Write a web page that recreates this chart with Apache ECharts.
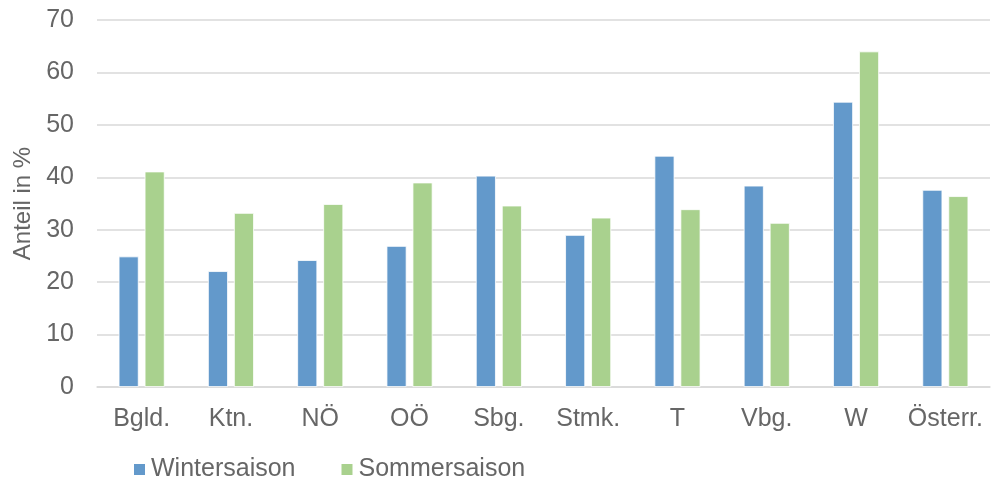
<!DOCTYPE html>
<html>
<head>
<meta charset="utf-8">
<script src="https://cdn.jsdelivr.net/npm/echarts@6/dist/echarts.min.js"></script>
<style>html,body{margin:0;padding:0;background:#fff;}#c{width:997px;height:482px;}</style>
</head>
<body>
<div id="c"></div>
<script>
const categories = ['Bgld.', 'Ktn.', 'NÖ', 'OÖ', 'Sbg.', 'Stmk.', 'T', 'Vbg.', 'W', 'Österr.'];
const winter = [24.9, 22.1, 24.2, 26.9, 40.3, 29.0, 44.1, 38.4, 54.4, 37.6];
const summer = [41.1, 33.2, 34.9, 39.0, 34.6, 32.3, 33.9, 31.3, 64.0, 36.4];
const yTicks = [0, 10, 20, 30, 40, 50, 60, 70];

const chart = echarts.init(document.getElementById('c'));
const font = 'Liberation Sans, Arial, sans-serif';
const txt = '#666666';
chart.setOption({
  animation: false,
  textStyle: { fontFamily: font },
  grid: { left: 97, right: 7, top: 20, bottom: 95, containLabel: false },
  legend: {
    left: 132, top: 457, padding: 0, itemWidth: 13, itemHeight: 13, itemGap: 44,
    icon: 'rect',
    textStyle: { fontSize: 25, color: txt, fontFamily: font },
    data: ['Wintersaison', 'Sommersaison']
  },
  xAxis: {
    type: 'category', data: categories,
    axisLine: { lineStyle: { color: '#d9d9d9', width: 1.5 } },
    axisTick: { show: false },
    axisLabel: { fontSize: 25, color: txt, margin: 20, fontFamily: font, interval: 0, hideOverlap: false }
  },
  yAxis: {
    type: 'value', min: 0, max: 70, interval: 10,
    name: 'Anteil in %', nameLocation: 'middle', nameGap: 47, nameRotate: 90,
    nameTextStyle: { fontSize: 24, color: txt, fontFamily: font },
    axisLine: { show: false }, axisTick: { show: false },
    axisLabel: { fontSize: 25, color: txt, margin: 23, fontFamily: font,
      formatter: v => yTicks.includes(v) ? String(v) : '' },
    splitLine: { lineStyle: { color: '#d9d9d9', width: 1.5 } }
  },
  series: [
    { name: 'Wintersaison', type: 'bar', data: winter, barWidth: 20, barGap: '30%',
      itemStyle: { color: '#6399CB', borderColor: '#ffffff', borderWidth: 0.8 } },
    { name: 'Sommersaison', type: 'bar', data: summer, barWidth: 20, barGap: '30%',
      itemStyle: { color: '#A9D18E', borderColor: '#ffffff', borderWidth: 0.8 } }
  ]
});
</script>
</body>
</html>
